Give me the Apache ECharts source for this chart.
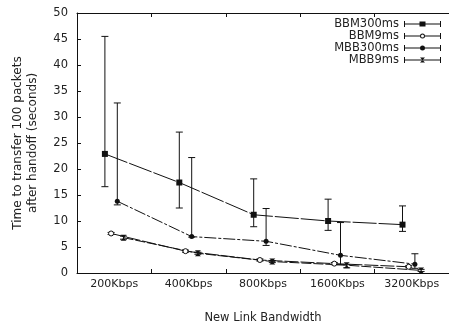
<!DOCTYPE html>
<html>
<head>
<meta charset="utf-8">
<script src="https://cdn.jsdelivr.net/npm/echarts@6/dist/echarts.min.js"></script>
<style>
html,body{margin:0;padding:0;background:#fff;}
#chart{width:449px;height:329px;}
</style>
</head>
<body>
<div id="chart"></div>
<script>
// ---- data ----
const categories = ['200Kbps', '400Kbps', '800Kbps', '1600Kbps', '3200Kbps'];
const seriesNames = ['BBM300ms', 'BBM9ms', 'MBB300ms', 'MBB9ms'];

const bbm300   = [22.9, 17.4, 11.2, 10.0, 9.3];
const bbm300Lo = [16.6, 12.5, 8.9, 8.2, 8.0];
const bbm300Hi = [45.5, 27.1, 18.1, 14.2, 12.9];

const bbm9   = [7.6, 4.2, 2.5, 1.8, 1.2];
const bbm9Lo = [7.4, 4.0, 2.3, 1.6, 1.0];
const bbm9Hi = [7.8, 4.4, 2.7, 2.0, 1.4];

const mbb300   = [13.8, 7.0, 6.1, 3.4, 1.7];
const mbb300Lo = [13.1, 6.9, 5.3, 1.6, 0.9];
const mbb300Hi = [32.7, 22.2, 12.4, 9.7, 3.7];

const mbb9   = [6.8, 3.8, 2.2, 1.5, 0.5];
const mbb9Lo = [6.5, 3.6, 2.0, 1.0, 0.3];
const mbb9Hi = [7.1, 4.0, 2.4, 1.6, 0.7];

const yTicks = [0, 5, 10, 15, 20, 25, 30, 35, 40, 45, 50];

// cluster offsets within each category (in category units)
const groupOffsets = [-0.125, -0.0417, 0.0417, 0.125];

// ---- build ----
const FONT = 'DejaVu Sans';
const INK = '#111';

function pts(vals, k) {
  return vals.map((v, i) => [i + groupOffsets[k], v]);
}
function errs(vals, lo, hi, k) {
  return vals.map((v, i) => [i + groupOffsets[k], lo[i], hi[i]]);
}
function errRender(params, api) {
  const x = api.value(0), lo = api.value(1), hi = api.value(2);
  const a = api.coord([x, lo]), b = api.coord([x, hi]);
  const hw = 3.5;
  const st = { stroke: INK, lineWidth: 1, fill: null };
  return {
    type: 'group',
    children: [
      { type: 'line', shape: { x1: a[0], y1: a[1], x2: b[0], y2: b[1] }, style: st },
      { type: 'line', shape: { x1: a[0] - hw, y1: a[1], x2: a[0] + hw, y2: a[1] }, style: st },
      { type: 'line', shape: { x1: b[0] - hw, y1: b[1], x2: b[0] + hw, y2: b[1] }, style: st }
    ]
  };
}

const hourglass = 'path://M0,0H10L5,5Z M0,10H10L5,5Z';
const caps = 'M0,0h1v6h-1z M36,0h1v6h-1z ';
const fullBar = 'M0,2.5h37v1h-37z ';
const legendIcons = [
  'path://' + caps + fullBar + 'M15.5,0.5h6v5h-6z',
  'path://' + caps + 'M0,2.5h16v1h-16z M21,2.5h16v1h-16z ' +
    'M16,3 A2.5,2.5 0 1 1 21,3 A2.5,2.5 0 1 1 16,3 Z ' +
    'M17,3 A1.5,1.5 0 1 0 20,3 A1.5,1.5 0 1 0 17,3 Z',
  'path://' + caps + fullBar + 'M16,3 A2.5,2.5 0 1 1 21,3 A2.5,2.5 0 1 1 16,3 Z',
  'path://' + caps + fullBar + 'M16,0.5H21L18.5,3Z M16,5.5H21L18.5,3Z'
];

const sets = [
  { v: bbm300, lo: bbm300Lo, hi: bbm300Hi, symbol: 'rect', size: 6, fill: INK, dash: [24, 2] },
  { v: bbm9, lo: bbm9Lo, hi: bbm9Hi, symbol: 'circle', size: 5, fill: '#fff', dash: [14, 2] },
  { v: mbb300, lo: mbb300Lo, hi: mbb300Hi, symbol: 'circle', size: 5, fill: INK, dash: [12, 2, 3, 2] },
  { v: mbb9, lo: mbb9Lo, hi: mbb9Hi, symbol: hourglass, size: 6, fill: INK, dash: [10, 2] }
];

const series = [];
sets.forEach((s, k) => {
  series.push({
    name: seriesNames[k] + '_err',
    type: 'custom',
    xAxisIndex: 2,
    yAxisIndex: 0,
    renderItem: errRender,
    encode: { x: 0, y: [1, 2] },
    data: errs(s.v, s.lo, s.hi, k),
    silent: true,
    z: 2
  });
});
sets.forEach((s, k) => {
  series.push({
    name: seriesNames[k],
    type: 'line',
    xAxisIndex: 2,
    yAxisIndex: 0,
    data: pts(s.v, k),
    symbol: s.symbol,
    symbolSize: s.size,
    showSymbol: true,
    lineStyle: { color: INK, width: 1, type: s.dash },
    itemStyle: { color: s.fill, borderColor: INK, borderWidth: s.fill === '#fff' ? 1 : 0 },
    silent: true,
    animation: false,
    z: 3
  });
});

const chart = echarts.init(document.getElementById('chart'), null, { renderer: 'canvas' });
chart.setOption({
  animation: false,
  backgroundColor: '#fff',
  textStyle: { fontFamily: FONT },
  grid: { left: 77, right: -8, top: 13, bottom: 53, containLabel: false },
  legend: {
    orient: 'vertical',
    right: 8,
    top: 18,
    padding: 0,
    align: 'right',
    itemWidth: 37,
    itemHeight: 6,
    itemGap: 0,
    selectedMode: false,
    itemStyle: { color: INK, borderColor: INK, borderWidth: 0 },
    textStyle: { fontFamily: FONT, fontSize: 11.5, color: '#222', lineHeight: 12 },
    data: seriesNames.map((n, k) => ({
      name: n,
      icon: legendIcons[k],
      itemStyle: { color: INK, borderColor: INK, borderWidth: 0 }
    }))
  },
  xAxis: [
    {
      type: 'category',
      position: 'bottom',
      data: categories,
      boundaryGap: true,
      axisLine: { show: true, onZero: false, lineStyle: { color: INK, width: 1 } },
      axisTick: { show: true, inside: true, length: 4, interval: 0, lineStyle: { color: INK } },
      axisLabel: { fontFamily: FONT, fontSize: 11, color: '#222', margin: 6, interval: 0 },
      splitLine: { show: false },
      name: 'New Link Bandwidth',
      nameLocation: 'middle',
      nameGap: 39,
      nameTextStyle: { fontFamily: FONT, fontSize: 11.5, color: '#222' }
    },
    {
      type: 'category',
      position: 'top',
      data: categories,
      boundaryGap: true,
      axisLine: { show: true, onZero: false, lineStyle: { color: INK, width: 1 } },
      axisTick: { show: true, inside: true, length: 4, interval: 0, lineStyle: { color: INK } },
      axisLabel: { show: false },
      splitLine: { show: false }
    },
    {
      type: 'value',
      show: false,
      min: -0.5,
      max: categories.length - 0.5,
      axisLine: { onZero: false },
      splitLine: { show: false }
    }
  ],
  yAxis: [{
    type: 'value',
    min: yTicks[0],
    max: yTicks[yTicks.length - 1],
    interval: yTicks[1] - yTicks[0],
    axisLine: { show: true, onZero: false, lineStyle: { color: INK, width: 1 } },
    axisTick: { show: true, inside: true, length: 4, lineStyle: { color: INK } },
    axisLabel: { fontFamily: FONT, fontSize: 11.5, color: '#222', margin: 9 },
    splitLine: { show: false },
    name: 'Time to transfer 100 packets\nafter handoff (seconds)',
    nameLocation: 'middle',
    nameGap: 37,
    nameTextStyle: { fontFamily: FONT, fontSize: 12, color: '#222', lineHeight: 15 }
  }],
  series: series
});
</script>
</body>
</html>
